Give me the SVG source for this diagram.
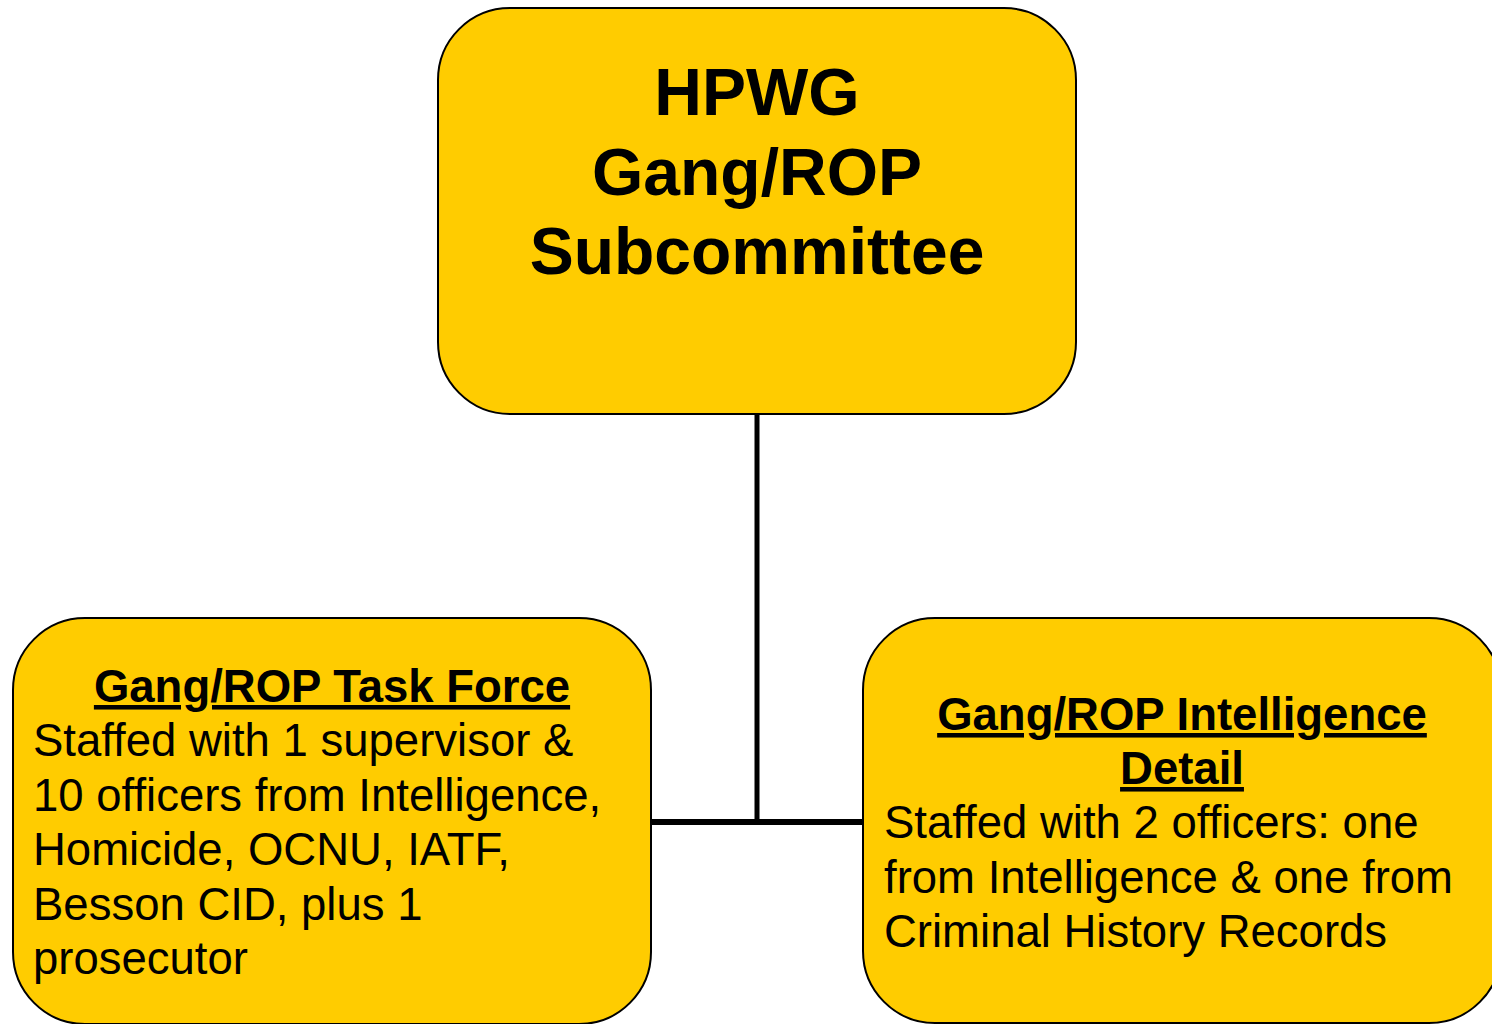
<svg xmlns="http://www.w3.org/2000/svg" width="1492" height="1024" viewBox="0 0 1492 1024">
<style>
.box{fill:#FFCC00;stroke:#000;stroke-width:2}
.conn{stroke:#000;fill:none}
text{font-family:"Liberation Sans",Arial,sans-serif;fill:#000}
.title{font-size:66px;font-weight:bold;text-anchor:middle}
.head{font-size:45.5px;font-weight:bold;text-anchor:middle;text-decoration:underline}
.body{font-size:45.5px}
</style>
<rect x="0" y="0" width="1492" height="1024" fill="#fff"/>
<g id="connectors">
<path class="conn" stroke-width="5" d="M757,414 V822"/>
<path class="conn" stroke-width="6" d="M651,822 H863"/>
</g>
<g id="node-subcommittee">
<rect class="box" x="438" y="8" width="638" height="406" rx="72" ry="72"/>
<text class="title" x="757" y="115">HPWG</text>
<text class="title" x="757" y="195">Gang/ROP</text>
<text class="title" x="757" y="274">Subcommittee</text>
</g>
<g id="node-taskforce">
<rect class="box" x="13" y="618" width="638" height="406" rx="72" ry="72"/>
<text class="head" x="332" y="702">Gang/ROP Task Force</text>
<text class="body" x="33" y="756">Staffed with 1 supervisor &amp;</text>
<text class="body" x="33" y="811">10 officers from Intelligence,</text>
<text class="body" x="33" y="865">Homicide, OCNU, IATF,</text>
<text class="body" x="33" y="920">Besson CID, plus 1</text>
<text class="body" x="33" y="974">prosecutor</text>
</g>
<g id="node-intelligence">
<rect class="box" x="863" y="618" width="638" height="405" rx="72" ry="72"/>
<text class="head" x="1182" y="730">Gang/ROP Intelligence</text>
<text class="head" x="1182" y="784">Detail</text>
<text class="body" x="884" y="838">Staffed with 2 officers: one</text>
<text class="body" x="884" y="893">from Intelligence &amp; one from</text>
<text class="body" x="884" y="947">Criminal History Records</text>
</g>
</svg>
